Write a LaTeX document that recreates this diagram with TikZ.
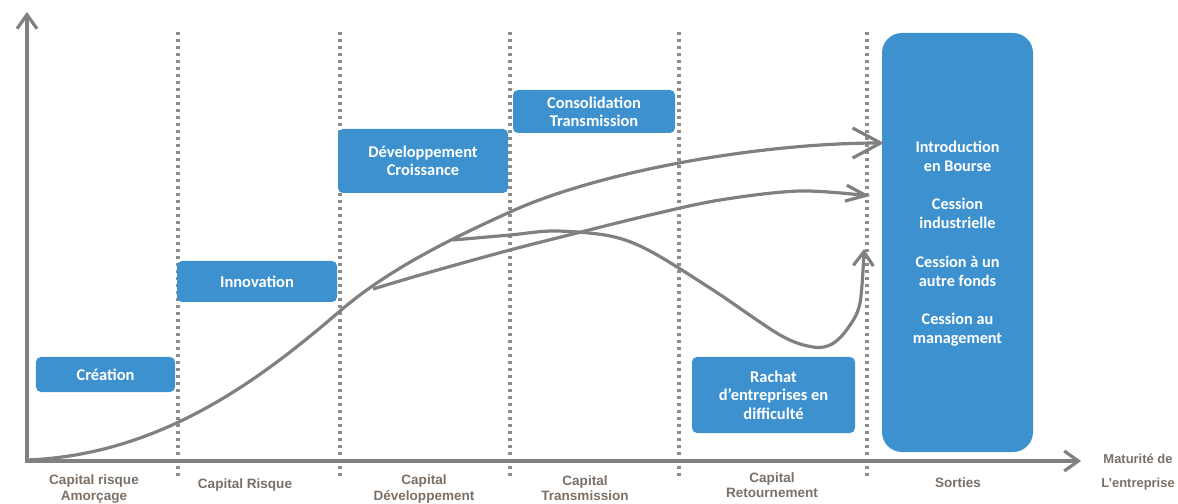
\documentclass[tikz,border=0pt]{standalone}
\usepackage{fontspec}
\setmainfont{Liberation Sans}
\newfontfamily\boxfamily{Carlito}
\usetikzlibrary{arrows.meta}

\definecolor{boxblue}{RGB}{62,145,207}
\definecolor{curvegray}{RGB}{128,128,128}
\definecolor{dotgray}{RGB}{140,140,140}
\definecolor{labelbrown}{RGB}{122,112,104}

\tikzset{
  stagebox/.style={rectangle, rounded corners=5bp, fill=boxblue, text=white,
    font=\boxfamily\bfseries\fontsize{16.5}{18.5}\selectfont, align=center, inner sep=0pt},
  exittext/.style={text=white, font=\boxfamily\bfseries\fontsize{16.3}{19}\selectfont,
    align=center, inner sep=0pt},
  phaselabel/.style={text=labelbrown, font=\bfseries\fontsize{13.6}{15.5}\selectfont,
    align=center, inner sep=0pt},
  divider/.style={dotgray, line width=3.3bp, dash pattern=on 3.3bp off 3.7bp},
  axisline/.style={curvegray, line width=3.2bp,
    -{Straight Barb[length=14bp,width=20bp]}},
  growth/.style={curvegray, line width=3.2bp, line join=round},
}

\begin{document}
\begin{tikzpicture}[x=1bp, y=-1bp]
\useasboundingbox (0,0) rectangle (1178,504);

% phase dividers
\foreach \xd in {178,340,510,679,867}
  \draw[divider] (\xd,32) -- (\xd,478);

% stage boxes
\node[stagebox, minimum width=139bp, minimum height=35bp] (creation) at (105.5,374.5) {Création};
\node[stagebox, minimum width=160bp, minimum height=41bp] (innovation) at (257,281.5) {Innovation};
\node[stagebox, minimum width=170bp, minimum height=64bp] (developpement) at (423,161) {Développement\\Croissance};
\node[stagebox, minimum width=162bp, minimum height=43bp] (consolidation) at (594,111.5) {Consolidation\\Transmission};
\node[stagebox, minimum width=163bp, minimum height=76bp] (rachat) at (773.5,395) {Rachat\\d’entreprises en\\difficulté};
\node[stagebox, rounded corners=20bp, minimum width=151bp, minimum height=419bp] (sorties) at (957.5,242.5) {};

% exit routes
\node[exittext] (ipo) at (957.5,156.5) {Introduction\\en Bourse};
\node[exittext] (industrielle) at (957.5,213) {Cession\\industrielle};
\node[exittext] (fonds) at (957.5,271.5) {Cession à un\\autre fonds};
\node[exittext] (management) at (957.5,330) {Cession au\\management};

% axes
\coordinate (origin) at (27,461);
\coordinate (ytop) at (27,12);
\coordinate (xend) at (1081,461);
\draw[axisline] (27,462) -- (ytop);
\draw[axisline] (25,461) -- (xend);

% main growth curve, from start-up to stock market listing
\coordinate (start) at (27,460);
\coordinate (bend) at (340,311);
\coordinate (mid) at (510,212);
\coordinate (listing) at (884,143);
\draw[growth, -{Straight Barb[length=28bp,width=30bp]}]
  (start) .. controls (160,455) and (260,380) .. (bend)
          .. controls (390,268) and (455,237) .. (mid)
          .. controls (600,171) and (760,143) .. (listing);

% branch towards industrial sale
\coordinate (branchA) at (373,289);
\coordinate (industrial) at (870,196);
\draw[growth, -{Straight Barb[length=20bp,width=16bp]}]
  plot[smooth, tension=0.55] coordinates {(branchA) (427,273) (510,250) (577,233)
    (650,215) (720,200) (800,191) (industrial)};

% branch through turnaround
\coordinate (branchB) at (453,240);
\coordinate (turnaround) at (864,249);
\draw[growth, -{Straight Barb[length=14bp,width=20bp]}]
  plot[smooth, tension=0.55] coordinates {(branchB) (510,235) (555,231) (610,236) (650,251)
    (713,290) (780,335) (813,347) (832,344) (848,328) (860,303) (turnaround)};

% phase labels
\node[phaselabel] (amorcage) at (94,489) {Capital risque\\Amorçage};
\node[phaselabel] (risque) at (245,485) {Capital Risque};
\node[phaselabel] (devcap) at (424,489) {Capital\\Développement};
\node[phaselabel] (transcap) at (585,488) {Capital\\Transmission};
\node[phaselabel] (retcap) at (772,485) {Capital\\Retournement};
\node[phaselabel] (exitcap) at (958,483) {Sorties};
\node[phaselabel, font=\bfseries\fontsize{13}{24}\selectfont] (maturite) at (1138,472) {Maturité de\\L’entreprise};
\end{tikzpicture}
\end{document}
